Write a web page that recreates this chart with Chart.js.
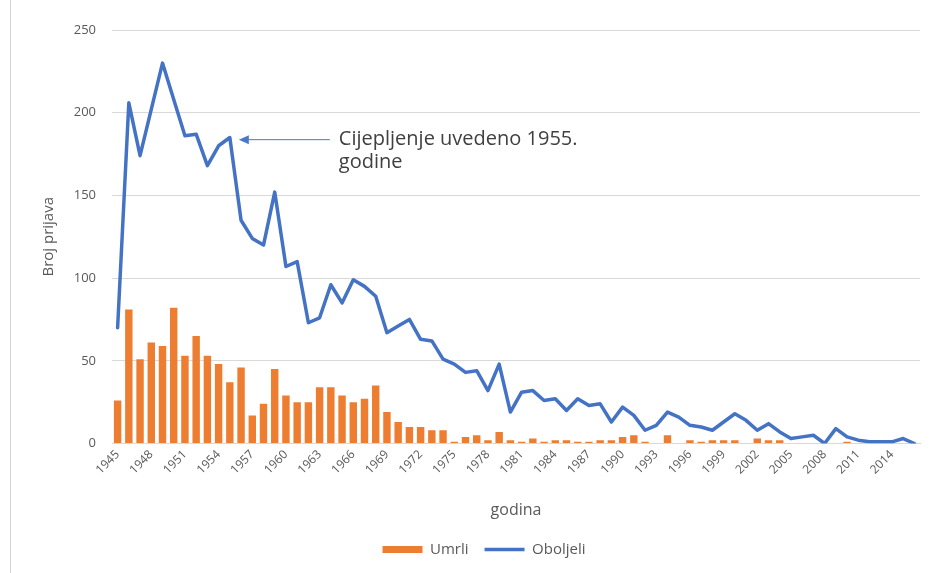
<!DOCTYPE html>
<html>
<head>
<meta charset="utf-8">
<script src="https://cdn.jsdelivr.net/npm/chart.js@4.4.1/dist/chart.umd.min.js"></script>
<style>
  body { margin: 0; background: #fff; }
  #wrap { position: relative; width: 938px; height: 573px; }
  #edge { position: absolute; left: 10px; top: 0; width: 1px; height: 573px; background: #d4d4d4; }
</style>
</head>
<body>
<div id="wrap">
  <div id="edge"></div>
  <canvas id="chart" width="938" height="573"></canvas>
</div>
<script>
const years = [
  '1945', '1946', '1947', '1948', '1949', '1950', '1951', '1952', '1953', '1954',
  '1955', '1956', '1957', '1958', '1959', '1960', '1961', '1962', '1963', '1964',
  '1965', '1966', '1967', '1968', '1969', '1970', '1971', '1972', '1973', '1974',
  '1975', '1976', '1977', '1978', '1979', '1980', '1981', '1982', '1983', '1984',
  '1985', '1986', '1987', '1988', '1989', '1990', '1991', '1992', '1993', '1994',
  '1995', '1996', '1997', '1998', '1999', '2000', '2001', '2002', '2003', '2004',
  '2005', '2006', '2007', '2008', '2009', '2010', '2011', '2012', '2013', '2014',
  '2015', '2016'
]

// deaths (bars)
const umrli = [
  26, 81, 51, 61, 59, 82, 53, 65, 53, 48,
  37, 46, 17, 24, 45, 29, 25, 25, 34, 34,
  29, 25, 27, 35, 19, 13, 10, 10, 8, 8,
  1, 4, 5, 2, 7, 2, 1, 3, 1, 2,
  2, 1, 1, 2, 2, 4, 5, 1, 0, 5,
  0, 2, 1, 2, 2, 2, 0, 3, 2, 2,
  0, 0, 0, 0, 0, 1, 0, 0, 0, 0,
  0, 0
]

// cases (line)
const oboljeli = [
  70, 206, 174, 202, 230, 208, 186, 187, 168, 180,
  185, 135, 124, 120, 152, 107, 110, 73, 76, 96,
  85, 99, 95, 89, 67, 71, 75, 63, 62, 51,
  48, 43, 44, 32, 48, 19, 31, 32, 26, 27,
  20, 27, 23, 24, 13, 22, 17, 8, 11, 19,
  16, 11, 10, 8, 13, 18, 14, 8, 12, 7,
  3, 4, 5, 0, 9, 4, 2, 1, 1, 1,
  3, 0
]

const yTicks = [0, 50, 100, 150, 200, 250]
const noteLines = ['Cijepljenje uvedeno 1955.', 'godine']
const noteYear = '1955'
const noteValue = 184

const FONT = '"Open Sans", "Noto Sans", sans-serif'
const GREY = '#595959'

// arrow + text note pointing at the 1955 point
const notePlugin = {
  id: 'note',
  afterDatasetsDraw(chart) {
    const { ctx, scales: { x, y } } = chart
    const tipX = x.getPixelForValue(years.indexOf(noteYear)) + 9
    const tailX = tipX + 91
    const py = y.getPixelForValue(noteValue)
    ctx.save()
    ctx.strokeStyle = '#4a78c8'
    ctx.fillStyle = '#4a78c8'
    ctx.lineWidth = 1
    ctx.beginPath()
    ctx.moveTo(tailX, py + 0.5)
    ctx.lineTo(tipX + 8, py + 0.5)
    ctx.stroke()
    ctx.beginPath()
    ctx.moveTo(tipX, py + 0.5)
    ctx.lineTo(tipX + 10, py - 4)
    ctx.lineTo(tipX + 10, py + 5)
    ctx.closePath()
    ctx.fill()
    ctx.fillStyle = '#404040'
    ctx.font = '20px ' + FONT
    ctx.textBaseline = 'middle'
    ctx.textAlign = 'left'
    noteLines.forEach((t, i) => ctx.fillText(t, tailX + 9, py + i * 23))
    ctx.restore()
  }
}

new Chart(document.getElementById('chart'), {
  data: {
    labels: years,
    datasets: [
      {
        type: 'bar',
        label: 'Umrli',
        data: umrli,
        backgroundColor: '#ed7d31',
        borderWidth: 0,
        barPercentage: 0.66,
        categoryPercentage: 1,
        pointStyle: 'rect',
        order: 2
      },
      {
        type: 'line',
        label: 'Oboljeli',
        data: oboljeli,
        borderColor: '#4472c4',
        backgroundColor: '#4472c4',
        borderWidth: 3.5,
        borderJoinStyle: 'round',
        borderCapStyle: 'round',
        pointRadius: 0,
        pointStyle: 'line',
        tension: 0,
        order: 1
      }
    ]
  },
  options: {
    responsive: false,
    animation: false,
    // left padding pushes the centred legend right, like the original
    layout: { padding: { top: 30, right: 18, bottom: 6, left: 48 } },
    plugins: {
      tooltip: { enabled: false },
      legend: {
        position: 'bottom',
        labels: {
          usePointStyle: true,
          pointStyleWidth: 40,
          boxHeight: 7,
          padding: 16,
          color: GREY,
          font: { family: FONT, size: 15 },
          sort: (a, b) => a.datasetIndex - b.datasetIndex
        }
      }
    },
    scales: {
      x: {
        grid: { display: false, drawTicks: false },
        border: { color: '#d9d9d9' },
        ticks: {
          autoSkip: false,
          minRotation: 45,
          maxRotation: 45,
          padding: 4,
          color: GREY,
          font: { family: FONT, size: 12 },
          callback: (v, i) => (i % 3 === 0 ? years[i] : '')
        },
        title: {
          display: true,
          text: 'godina',
          color: GREY,
          font: { family: FONT, size: 16 },
          padding: { top: 0, bottom: 6 }
        },
        afterFit: s => { s.height = 82.5 }
      },
      y: {
        min: 0,
        max: 250,
        afterBuildTicks: s => { s.ticks = yTicks.map(v => ({ value: v })) },
        grid: { color: '#d9d9d9', drawTicks: false },
        border: { display: false },
        ticks: {
          padding: 16,
          color: GREY,
          font: { family: FONT, size: 13 }
        },
        title: {
          display: true,
          text: 'Broj prijava',
          color: GREY,
          font: { family: FONT, size: 15 },
          padding: { top: -8, bottom: 0 }
        },
        afterFit: s => { s.width = 64 }
      }
    }
  },
  plugins: [notePlugin]
})
</script>
</body>
</html>
